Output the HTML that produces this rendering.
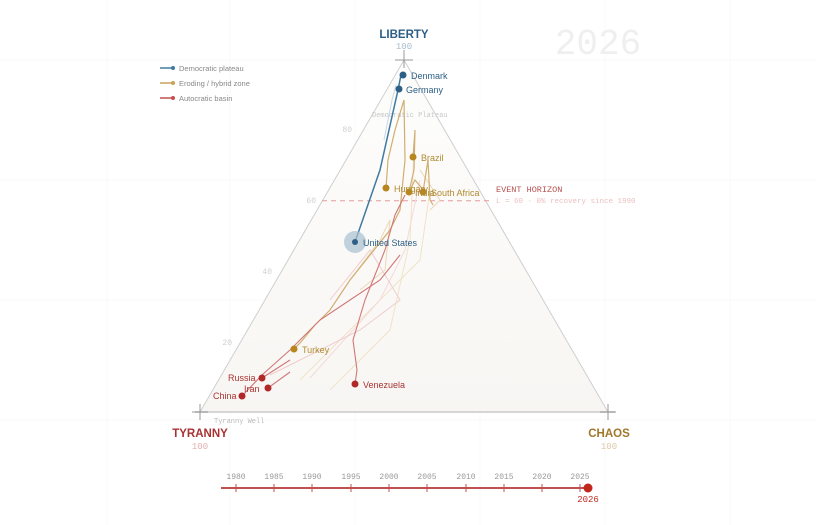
<!DOCTYPE html>
<html><head><meta charset="utf-8"><style>
html,body{margin:0;padding:0;background:#fff;}
svg{display:block;font-family:"Liberation Sans",sans-serif;}
.m{font-family:"Liberation Mono",monospace;}
</style></head><body>
<svg width="816" height="525" viewBox="0 0 816 525">
<defs><linearGradient id="g" x1="0" y1="0" x2="0" y2="1"><stop offset="0" stop-color="#fdfdfc"/><stop offset="1" stop-color="#f8f6f3"/></linearGradient></defs>
<g stroke="#f8f8f8" stroke-width="1">
<line x1="107" y1="0" x2="107" y2="525"/><line x1="230" y1="0" x2="230" y2="525"/><line x1="355" y1="0" x2="355" y2="525"/><line x1="480" y1="0" x2="480" y2="525"/><line x1="605" y1="0" x2="605" y2="525"/><line x1="730" y1="0" x2="730" y2="525"/>
<line x1="0" y1="60" x2="816" y2="60"/><line x1="0" y1="180" x2="816" y2="180"/><line x1="0" y1="300" x2="816" y2="300"/><line x1="0" y1="420" x2="816" y2="420"/>
</g>
<text x="598" y="54" font-size="36" fill="#efefef" text-anchor="middle" class="m">2026</text>
<polygon points="404,60 200,412 608,412" fill="url(#g)" stroke="#cfcfcf" stroke-width="1"/>
<line x1="195" y1="412" x2="615" y2="412" stroke="#d6d6d6" stroke-width="2"/>
<g stroke="#999" stroke-width="1"><line x1="404" y1="50" x2="404" y2="68"/><line x1="395" y1="60" x2="413" y2="60"/><line x1="200" y1="404" x2="200" y2="420"/><line x1="192" y1="412" x2="208" y2="412"/><line x1="608" y1="404" x2="608" y2="420"/><line x1="600" y1="412" x2="616" y2="412"/></g>
<g class="m" font-size="8" fill="#d0d0d0"><text x="352" y="132" text-anchor="end">80</text><text x="316" y="203" text-anchor="end">60</text><text x="272" y="274" text-anchor="end">40</text><text x="232" y="345" text-anchor="end">20</text><text x="372" y="117" fill="#c8c8c8" font-size="7">Democratic Plateau</text><text x="214" y="423" fill="#bbb" font-size="7">Tyranny Well</text></g>
<line x1="322" y1="200.8" x2="492" y2="200.8" stroke="#e69a9a" stroke-width="1" stroke-dasharray="5,4"/>
<text x="496" y="192" class="m" font-size="8.5" fill="#b55050">EVENT HORIZON</text>
<text x="496" y="203" class="m" font-size="7.5" fill="#ecc0c0">L = 60  ·  0% recovery since 1990</text>
<g fill="none" stroke-width="1">
<polyline points="300,380 360,320 420,260 430,190" stroke="#efe3c8"/>
<polyline points="310,378 380,300 405,250 420,180" stroke="#f4dada"/>
<polyline points="330,390 390,330 410,240 414,150" stroke="#efe3c8"/>
<polyline points="270,375 360,330 400,300 370,250 330,300" stroke="#f0cccc"/>
<polyline points="350,280 380,240 390,220 385,270 360,290" stroke="#ecd8b8"/>
<polyline points="420,170 440,200 430,210" stroke="#ecd8b8"/>
</g>
<g fill="none" stroke="#d0ae70" stroke-width="1.2">
<polyline points="294,349 300,343 315,325 330,310 350,280 370,255 390,230 400,210 405,160 404,100"/>
<polyline points="386,188 388,160 395,130 404,100"/>
<polyline points="413,157 415,130 414,170 409,192"/>
<polyline points="423,192 428,160 430,200 433,205"/>
<polyline points="409,192 415,180 425,192"/>
</g>
<g fill="none" stroke="#d07878" stroke-width="1.1">
<polyline points="242,396 262,375 290,350 320,320 350,300 380,280 400,255"/>
<polyline points="262,378 290,360"/>
<polyline points="268,388 290,372"/>
<polyline points="355,384 357,370 353,340 365,300 375,275 385,250 395,215 405,195"/>
</g>
<polyline points="355,242 380,170 398,90 401,75" fill="none" stroke="#3f7aa0" stroke-width="1.5"/>
<polyline points="384,140 392,100 396,85" fill="none" stroke="#c8d8e6" stroke-width="1"/>
<circle cx="355" cy="242" r="11" fill="#a8c0d0" opacity="0.7"/>
<g fill="#2d5f86"><circle cx="355" cy="242" r="3"/><circle cx="403" cy="75" r="3.5"/><circle cx="399" cy="89" r="3.5"/></g>
<g fill="#b7861f"><circle cx="413" cy="157" r="3.5"/><circle cx="386" cy="188" r="3.5"/><circle cx="409" cy="192" r="3.5"/><circle cx="423" cy="192" r="3.5"/><circle cx="294" cy="349" r="3.5"/></g>
<g fill="#b02828"><circle cx="242" cy="396" r="3.5"/><circle cx="262" cy="378" r="3.5"/><circle cx="268" cy="388" r="3.5"/><circle cx="355" cy="384" r="3.5"/></g>
<g font-size="9">
<text x="411" y="79" fill="#2d5f86">Denmark</text><text x="406" y="93" fill="#2d5f86">Germany</text><text x="363" y="246" fill="#2d5f86">United States</text>
<text x="421" y="161" fill="#b08a30">Brazil</text><text x="394" y="192" fill="#b08a30">Hungary</text><text x="415" y="196" fill="#b08a30">India</text><text x="431" y="196" fill="#b08a30">South Africa</text><text x="302" y="353" fill="#b08a30">Turkey</text>
<text x="228" y="381" fill="#a83232">Russia</text><text x="244" y="392" fill="#a83232">Iran</text><text x="213" y="399" fill="#a83232">China</text><text x="363" y="388" fill="#a83232">Venezuela</text>
</g>
<text x="404" y="38" text-anchor="middle" font-size="11.5" font-weight="bold" fill="#2d5f86">LIBERTY</text>
<text x="404" y="49" text-anchor="middle" class="m" font-size="9" fill="#a8bccc">100</text>
<text x="200" y="437" text-anchor="middle" font-size="11.5" font-weight="bold" fill="#a83232">TYRANNY</text>
<text x="200" y="449" text-anchor="middle" class="m" font-size="9" fill="#e0b0b0">100</text>
<text x="609" y="437" text-anchor="middle" font-size="11.5" font-weight="bold" fill="#a0782a">CHAOS</text>
<text x="609" y="449" text-anchor="middle" class="m" font-size="9" fill="#dcc8a8">100</text>
<g font-size="7.5" fill="#888">
<line x1="160" y1="68" x2="173" y2="68" stroke="#3f7aa0" stroke-width="1.5"/><circle cx="173" cy="68" r="2" fill="#3f7aa0"/><text x="179" y="71">Democratic plateau</text>
<line x1="160" y1="83" x2="173" y2="83" stroke="#c9a25a" stroke-width="1.5"/><circle cx="173" cy="83" r="2" fill="#c9a25a"/><text x="179" y="86">Eroding / hybrid zone</text>
<line x1="160" y1="98" x2="173" y2="98" stroke="#c35050" stroke-width="1.5"/><circle cx="173" cy="98" r="2" fill="#c35050"/><text x="179" y="101">Autocratic basin</text>
</g>
<line x1="221" y1="488" x2="588" y2="488" stroke="#c35050" stroke-width="2"/>
<g class="m" font-size="8" fill="#999" text-anchor="middle">
<text x="236" y="479">1980</text><text x="274" y="479">1985</text><text x="312" y="479">1990</text><text x="351" y="479">1995</text><text x="389" y="479">2000</text><text x="427" y="479">2005</text><text x="466" y="479">2010</text><text x="504" y="479">2015</text><text x="542" y="479">2020</text><text x="580" y="479">2025</text>
</g>
<g stroke="#c35050" stroke-width="1"><line x1="236" y1="484" x2="236" y2="492"/><line x1="274" y1="484" x2="274" y2="492"/><line x1="312" y1="484" x2="312" y2="492"/><line x1="351" y1="484" x2="351" y2="492"/><line x1="389" y1="484" x2="389" y2="492"/><line x1="427" y1="484" x2="427" y2="492"/><line x1="466" y1="484" x2="466" y2="492"/><line x1="504" y1="484" x2="504" y2="492"/><line x1="542" y1="484" x2="542" y2="492"/><line x1="580" y1="484" x2="580" y2="492"/></g>
<circle cx="588" cy="488" r="4.5" fill="#c0281e"/>
<text x="588" y="502" text-anchor="middle" class="m" font-size="9" fill="#c0281e">2026</text>
</svg>
</body></html>
